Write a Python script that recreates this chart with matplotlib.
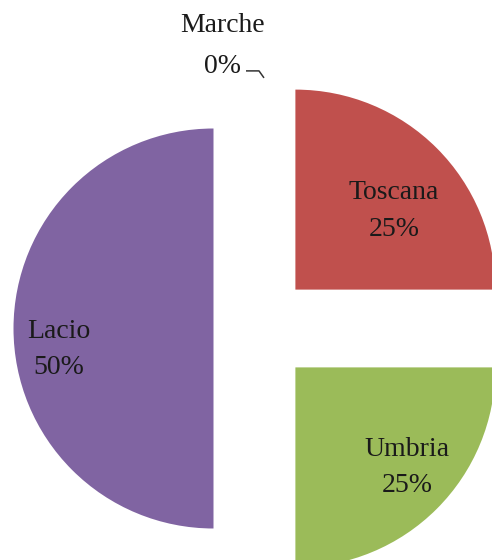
import numpy as np
import matplotlib
matplotlib.use("Agg")          # niente display
import matplotlib.pyplot as plt

# ── dati ─────────────────────────────────────────────────────────────────────
regioni = ["Marche", "Toscana", "Umbria", "Lacio"]
quote   = [0, 25, 25, 50]
colori  = ["#4F81BD", "#C0504D", "#9BBB59", "#8064A2"]

# ── layout ───────────────────────────────────────────────────────────────────
esplodi   = [0.275, 0.275, 0.275, 0.215]
lab_dist  = [1.15, 0.63, 0.75, 0.78]     # distanza etichetta dal vertice
lab_dang  = [0.0, -6.5, 3.2, 7.7]        # correzione angolo (gradi)

plt.rcParams["font.family"] = ["Liberation Serif", "DejaVu Serif"]

fig = plt.figure(figsize=(4.92, 5.6), dpi=100)
ax = fig.add_axes([0, 0, 1, 1])

wedges, _ = ax.pie(quote, colors=colori, explode=esplodi, startangle=90,
                   counterclock=False, radius=1.0,
                   wedgeprops=dict(linewidth=0))

for i, w in enumerate(wedges):
    ang = np.deg2rad((w.theta1 + w.theta2) / 2 + lab_dang[i])
    cx, cy = w.center
    x = cx + lab_dist[i] * np.cos(ang)
    y = cy + lab_dist[i] * np.sin(ang)
    testo = f"{regioni[i]}\n{quote[i]}%"
    if quote[i] == 0:
        # etichetta esterna con linea guida
        ax_x, ax_y = cx + 0.0375, cy + 0.978
        ax.plot([ax_x - 0.09, ax_x - 0.025, ax_x], [ax_y + 0.035, ax_y + 0.035, ax_y],
                color="#333333", lw=1.1, solid_capstyle="butt")
        ax.text(ax_x - 0.207, ax_y + 0.16, testo, ha="center", va="center",
                fontsize=20, linespacing=1.85, color="#1a1a1a")
    else:
        ax.text(x, y, testo, ha="center", va="center", fontsize=20,
                linespacing=1.6, color="#1a1a1a")

ax.set_xlim(-256.5 / 200, (492 - 256.5) / 200)
ax.set_ylim(-(560 - 328.5) / 200, 328.5 / 200)
ax.set_aspect("equal")
ax.axis("off")

fig.savefig("out.png", dpi=100)
